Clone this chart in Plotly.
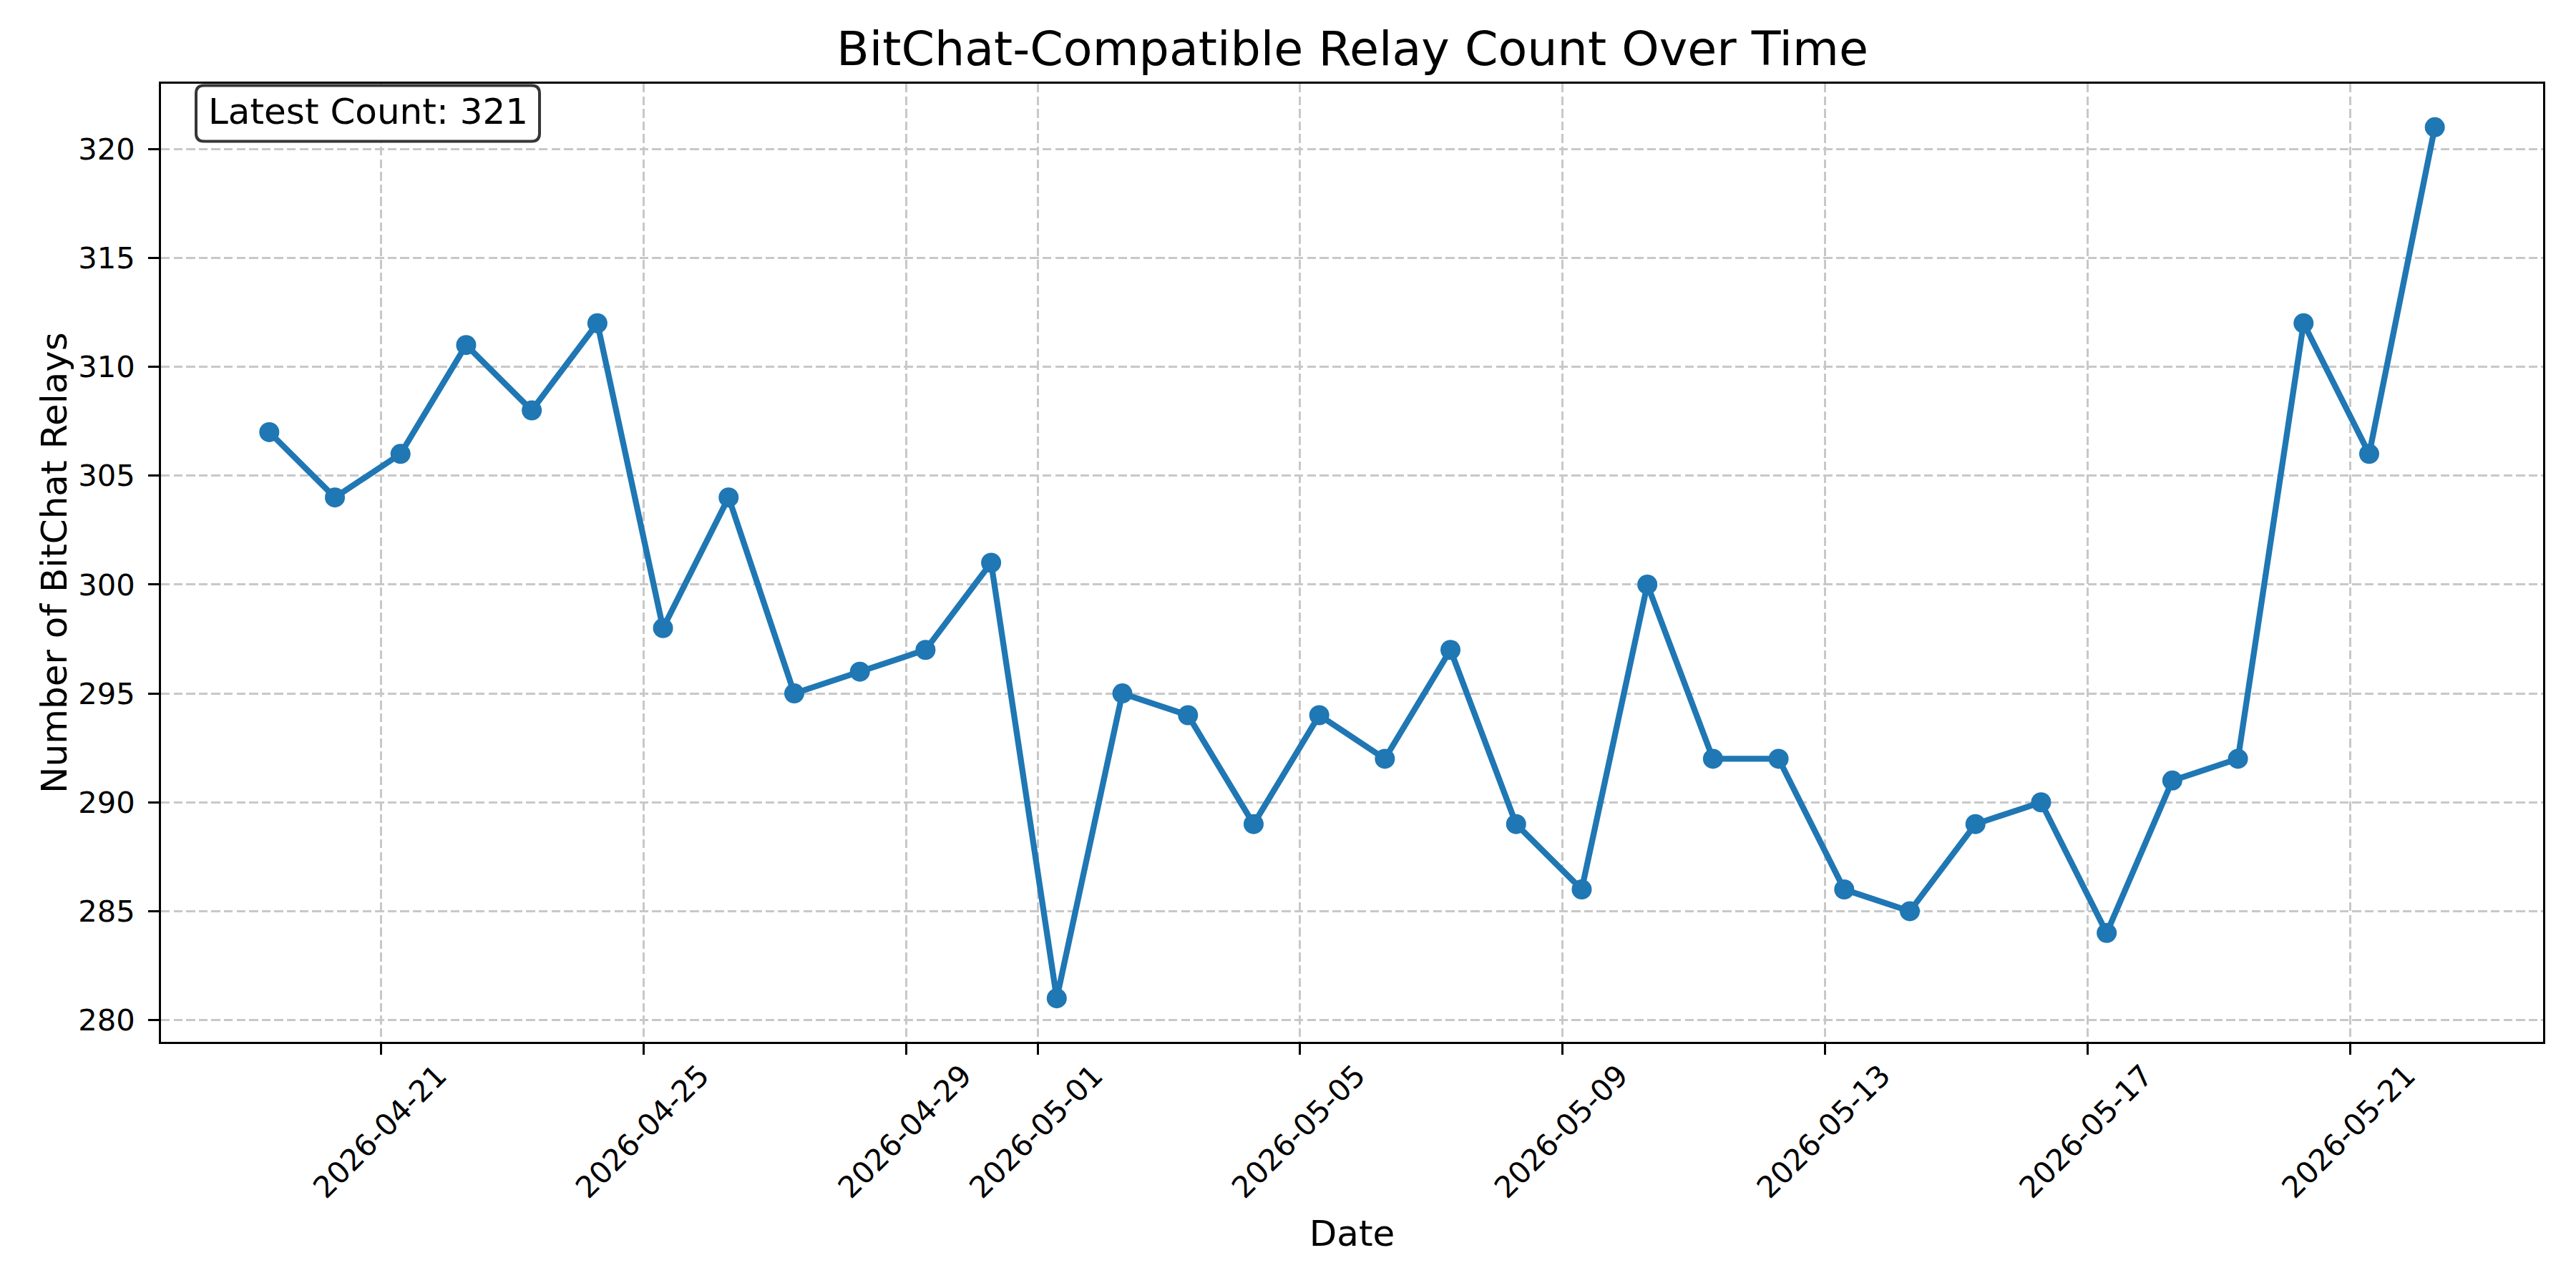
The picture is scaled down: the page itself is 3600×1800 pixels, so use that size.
import pandas as pd
import plotly.graph_objects as go

# ---- data ----
start_time = "2026-04-19 07:00"
relay_counts = [307, 304, 306, 311, 308, 312, 298, 304, 295, 296, 297, 301,
                281, 295, 294, 289, 294, 292, 297, 289, 286, 300, 292, 292,
                286, 285, 289, 290, 284, 291, 292, 312, 306, 321]
dates = pd.date_range(start=start_time, periods=len(relay_counts), freq="D")

x_tick_dates = ["2026-04-21", "2026-04-25", "2026-04-29", "2026-05-01",
                "2026-05-05", "2026-05-09", "2026-05-13", "2026-05-17",
                "2026-05-21"]
y_tick_vals = [280, 285, 290, 295, 300, 305, 310, 315, 320]

title_text = "BitChat-Compatible Relay Count Over Time"
x_label = "Date"
y_label = "Number of BitChat Relays"
latest_text = f"Latest Count: {relay_counts[-1]}"

# ---- ranges (matplotlib-like 5% margins) ----
span = dates[-1] - dates[0]
x_range = [dates[0] - span * 0.05, dates[-1] + span * 0.05]
ymin, ymax = min(relay_counts), max(relay_counts)
ypad = (ymax - ymin) * 0.05
y_range = [ymin - ypad, ymax + ypad]

FONT = "DejaVu Sans"
BLUE = "#1f77b4"
GRID = "#c8c8c8"

fig = go.Figure()
fig.add_trace(go.Scatter(
    x=dates, y=relay_counts, mode="lines+markers",
    line=dict(color=BLUE, width=8.3),
    marker=dict(color=BLUE, size=28),
    showlegend=False,
))

axis_common = dict(
    showline=True, linecolor="black", linewidth=3.3, mirror=True,
    ticks="outside", ticklen=14.6, tickwidth=3.3, tickcolor="black",
    showgrid=True, gridcolor=GRID, gridwidth=3.3, griddash="12.3px,5.3px",
    zeroline=False, automargin=False,
    tickfont=dict(family=FONT, size=41.7, color="black"),
)

fig.update_xaxes(
    **axis_common,
    type="date", range=x_range,
    tickvals=pd.to_datetime(x_tick_dates), ticktext=x_tick_dates,
    tickangle=-45, ticklabelshift=79, ticklabelstandoff=-12,
    title=dict(text=x_label, font=dict(family=FONT, size=50, color="black"),
               standoff=23),
)
fig.update_yaxes(
    **axis_common,
    range=y_range, tickvals=y_tick_vals,
    ticklabelstandoff=10,
    title=dict(text=y_label, font=dict(family=FONT, size=50, color="black"),
               standoff=0),
)

# rounded text box (paper coordinates of the plot area)
W_PX, H_PX = 3329.0, 1339.0
bx0, bx1 = 49 / W_PX, 529 / W_PX
by0, by1 = 1 - 80.6 / H_PX, 1 - 2.6 / H_PX
rx, ry = 11 / W_PX, 11 / H_PX
box_path = (
    f"M {bx0 + rx},{by1} L {bx1 - rx},{by1} Q {bx1},{by1} {bx1},{by1 - ry} "
    f"L {bx1},{by0 + ry} Q {bx1},{by0} {bx1 - rx},{by0} "
    f"L {bx0 + rx},{by0} Q {bx0},{by0} {bx0},{by0 + ry} "
    f"L {bx0},{by1 - ry} Q {bx0},{by1} {bx0 + rx},{by1} Z"
)
fig.add_shape(type="path", path=box_path, xref="paper", yref="paper",
              fillcolor="white", line=dict(color="#363636", width=4),
              layer="above")

fig.add_annotation(
    text=latest_text, xref="paper", yref="paper",
    x=(bx0 + bx1) / 2, y=(by0 + by1) / 2 + 3 / H_PX,
    xanchor="center", yanchor="middle", showarrow=False,
    font=dict(family=FONT, size=50, color="black"),
)

fig.update_layout(
    width=3600, height=1800,
    template="none",
    paper_bgcolor="white", plot_bgcolor="white",
    margin=dict(l=225, r=46, t=117, b=344, pad=0),
    title=dict(text=title_text, x=0.525, xanchor="center",
               yref="container", y=1 - 68 / 1800, yanchor="middle",
               font=dict(family=FONT, size=66.7, color="black")),
    font=dict(family=FONT),
)

fig.write_html("out.html")
